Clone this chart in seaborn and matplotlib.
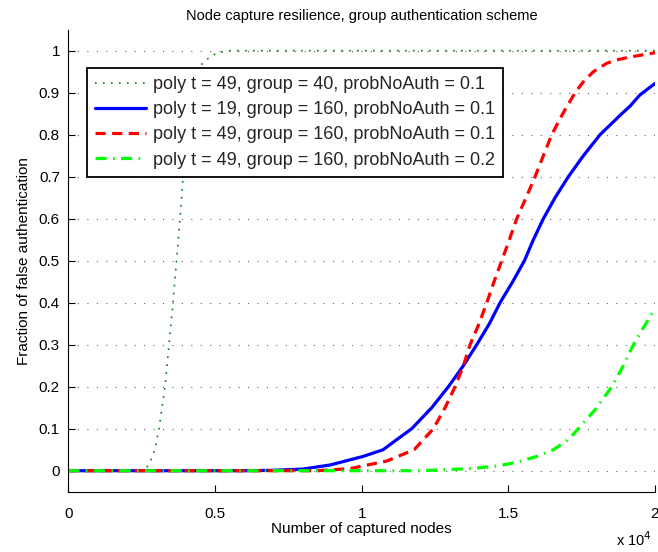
import matplotlib
matplotlib.use("Agg")
import matplotlib.pyplot as plt
import seaborn as sns
import pandas as pd

# ---- data ----
dotted_x = [0, 2547, 2650, 2786, 2950, 3092, 3297, 3433, 3570, 3690, 3809, 3911, 4050, 4250, 4430, 4603, 5070, 5500, 20000]
dotted_y = [0, 0, 0.005, 0.02, 0.05, 0.1, 0.2, 0.3, 0.4, 0.5, 0.6, 0.7, 0.8, 0.9, 0.95, 0.974, 0.995, 1.0, 1.0]

blue_x = [0, 6000, 7000, 8000, 8920, 10048, 10733, 11196, 11707, 12389, 12957, 13468, 13924, 14354, 14719,
          15150, 15550, 15854, 16195, 16594, 17047, 17559, 18128, 18868, 19150, 19492, 20000]
blue_y = [0, 0, 0.001, 0.004, 0.0136, 0.034, 0.05, 0.074, 0.1, 0.15, 0.2, 0.25, 0.3, 0.35, 0.4,
          0.45, 0.5, 0.55, 0.6, 0.65, 0.7, 0.75, 0.8, 0.85, 0.868, 0.895, 0.922]

red_x = [0, 8500, 9605, 10855, 11790, 12445, 12844, 13185, 13468, 13696, 14003, 14265, 14514, 14776, 15036,
         15288, 15605, 15912, 16195, 16481, 16856, 17276, 17559, 17900, 18356, 18700, 19150, 20000]
red_y = [0, 0, 0.005, 0.023, 0.05, 0.1, 0.15, 0.2, 0.25, 0.3, 0.35, 0.4, 0.45, 0.5, 0.55,
         0.6, 0.65, 0.7, 0.75, 0.8, 0.85, 0.9, 0.926, 0.95, 0.97, 0.978, 0.985, 0.995]

lime_x = [0, 12000, 13696, 14606, 15288, 15970, 16536, 17047, 17388, 18016, 18526, 18923, 19264, 20000]
lime_y = [0, 0, 0.005, 0.011, 0.02, 0.034, 0.05, 0.074, 0.1, 0.15, 0.2, 0.25, 0.3, 0.387]

labels = [
    "poly t = 49, group = 40, probNoAuth = 0.1",
    "poly t = 19, group = 160, probNoAuth = 0.1",
    "poly t = 49, group = 160, probNoAuth = 0.1",
    "poly t = 49, group = 160, probNoAuth = 0.2",
]
xtick_vals = [0, 5000, 10000, 15000, 20000]
xtick_labels = ["0", "0.5", "1", "1.5", "2"]
ytick_vals = [0, 0.1, 0.2, 0.3, 0.4, 0.5, 0.6, 0.7, 0.8, 0.9, 1.0]
ytick_labels = ["0", "0.1", "0.2", "0.3", "0.4", "0.5", "0.6", "0.7", "0.8", "0.9", "1"]

sns.set_theme(style="white")
plt.rcParams["font.family"] = ["Liberation Sans", "DejaVu Sans"]

fig = plt.figure(figsize=(6.58, 5.52), dpi=100)
ax = fig.add_axes([0.1038, 0.1092, 0.8916, 0.837])

series = [
    (dotted_x, dotted_y, dict(color=(0, 0.5, 0), linestyle=(0, (1, 3.8)), linewidth=1.2)),
    (blue_x, blue_y, dict(color=(0, 0, 1), linestyle="-", linewidth=2.3)),
    (red_x, red_y, dict(color=(1, 0, 0), linestyle=(0, (3.2, 2.0)), linewidth=2.3)),
    (lime_x, lime_y, dict(color=(0, 1, 0), linestyle=(0, (3.5, 2.0, 0.5, 2.0)), linewidth=2.3)),
]
for (xs, ys, st), lab in zip(series, labels):
    df = pd.DataFrame({"x": xs, "y": ys})
    sns.lineplot(data=df, x="x", y="y", ax=ax, label=lab, estimator=None, sort=False, **st)

ax.set_xlim(0, 20000)
ax.set_ylim(-0.05, 1.05)
ax.set_xticks(xtick_vals)
ax.set_xticklabels(xtick_labels)
ax.set_yticks(ytick_vals)
ax.set_yticklabels(ytick_labels)
ax.tick_params(axis="both", direction="in", length=5, width=0.8, colors="black",
               labelsize=11, bottom=True, left=True, pad=6)
ax.tick_params(axis="x", pad=11)
for s in ["top", "right"]:
    ax.spines[s].set_visible(False)
for s in ["left", "bottom"]:
    ax.spines[s].set_color("black")
    ax.spines[s].set_linewidth(0.8)

ax.yaxis.grid(True, linestyle=(0, (1, 7.5)), color="0.4", linewidth=0.8)
ax.xaxis.grid(False)
ax.set_axisbelow(True)

ax.set_xlabel("Number of captured nodes", fontsize=11, color="black", labelpad=1)
ax.set_ylabel("Fraction of false authentication", fontsize=11, color="black", labelpad=6)
ax.set_title("Node capture resilience, group authentication scheme", fontsize=10.5, color="black", pad=7)
ax.text(0.995, -0.118, r"x 10$^4$", transform=ax.transAxes, ha="right", va="baseline",
        fontsize=10.5, color="black")

leg = ax.legend(loc="upper left", bbox_to_anchor=(0.032, 0.917), fontsize=13.0, frameon=True,
                fancybox=False, framealpha=1, edgecolor="black", handlelength=2.8,
                labelspacing=0.45, borderpad=0.45, handletextpad=0.4, borderaxespad=0)
leg.get_frame().set_linewidth(1.3)

fig.savefig("out.png", dpi=100)
